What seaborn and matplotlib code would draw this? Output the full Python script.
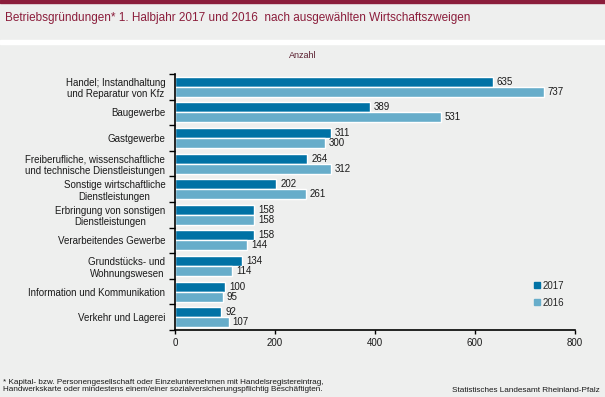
import matplotlib
matplotlib.use("Agg")
import matplotlib.pyplot as plt
from matplotlib.lines import Line2D
from matplotlib.patches import Rectangle
import seaborn as sns
import pandas as pd
import numpy as np

# Data
categories = [
    "Handel; Instandhaltung\nund Reparatur von Kfz",
    "Baugewerbe",
    "Gastgewerbe",
    "Freiberufliche, wissenschaftliche\nund technische Dienstleistungen",
    "Sonstige wirtschaftliche\nDienstleistungen",
    "Erbringung von sonstigen\nDienstleistungen",
    "Verarbeitendes Gewerbe",
    "Grundstücks- und\nWohnungswesen",
    "Information und Kommunikation",
    "Verkehr und Lagerei",
]
values_2017 = [635, 389, 311, 264, 202, 158, 158, 134, 100, 92]
values_2016 = [737, 531, 300, 312, 261, 158, 144, 114, 95, 107]
years = ["2017", "2016"]
x_ticks = [0, 200, 400, 600, 800]

BG = "#EEEFEE"
DARK_RED = "#8B1D3B"
COLORS = {"2017": "#0072A5", "2016": "#67ADCA"}

sns.set_theme(style="white")
plt.rcParams["font.family"] = ["Liberation Sans", "DejaVu Sans"]

df = pd.DataFrame({
    "Wirtschaftszweig": categories * 2,
    "Anzahl": values_2017 + values_2016,
    "Jahr": [years[0]] * len(categories) + [years[1]] * len(categories),
})

fig = plt.figure(figsize=(6.05, 3.97), dpi=100, facecolor=BG)

# top stripe and white separator band
fig.patches.append(Rectangle((0, 1 - 3 / 397), 1, 3 / 397, transform=fig.transFigure,
                             color=DARK_RED, zorder=0))
fig.patches.append(Rectangle((0, 1 - 44 / 397), 1, 4 / 397, transform=fig.transFigure,
                             color="white", zorder=0))

ax = fig.add_axes([175 / 605, 1 - 330 / 397, 400 / 605, 256 / 397])
ax.set_facecolor(BG)

sns.barplot(data=df, y="Wirtschaftszweig", x="Anzahl", hue="Jahr", orient="h",
            palette=COLORS, width=0.78, ax=ax, legend=False, saturation=1)

for cont in ax.containers:
    ax.bar_label(cont, padding=3, fontsize=7, color="#1a1a1a")

ax.set_xlim(0, 800)
ax.set_ylim(9.5, -0.5)
ax.set_xticks(x_ticks)
ax.set_xticklabels([str(t) for t in x_ticks], fontsize=7, color="#1a1a1a")
ax.tick_params(axis="x", length=3, width=1, direction="out", colors="black",
               labelcolor="#1a1a1a", pad=3, bottom=True)

ax.set_yticks(range(len(categories)))
ax.set_yticklabels(categories, fontsize=7, color="#1a1a1a", multialignment="center")
ax.tick_params(axis="y", which="major", length=0, pad=7)
ax.set_yticks(np.arange(-0.5, len(categories), 1), minor=True)
ax.tick_params(axis="y", which="minor", length=4, width=1, direction="out",
               colors="black", left=True)

ax.set_xlabel("")
ax.set_ylabel("")
for side in ["top", "right"]:
    ax.spines[side].set_visible(False)
for side in ["left", "bottom"]:
    ax.spines[side].set_color("black")
    ax.spines[side].set_linewidth(1.2)

handles = [Line2D([0], [0], marker="s", linestyle="", markersize=4,
                  markerfacecolor=COLORS[y], markeredgecolor=COLORS[y]) for y in years]
fig.legend(handles, years, loc="upper left", bbox_to_anchor=(530 / 605, 1 - 277 / 397),
           frameon=False, fontsize=7, handlelength=0.6, handletextpad=0.3,
           labelspacing=0.7, borderaxespad=0)

fig.text(5 / 605, 1 - 18 / 397,
         "Betriebsgründungen* 1. Halbjahr 2017 und 2016  nach ausgewählten Wirtschaftszweigen",
         fontsize=8.5, color=DARK_RED, va="center", ha="left")
fig.text(0.5, 1 - 55 / 397, "Anzahl", fontsize=6.5, color="#5a2030",
         va="center", ha="center")

fig.text(3 / 605, 1 - 386 / 397,
         "* Kapital- bzw. Personengesellschaft oder Einzelunternehmen mit Handelsregistereintrag,\n"
         "Handwerkskarte oder mindestens einem/einer sozialversicherungspflichtig Beschäftigten.",
         fontsize=5.9, color="#1a1a1a", va="center", ha="left", linespacing=0.95)
fig.text(600 / 605, 1 - 391 / 397, "Statistisches Landesamt Rheinland-Pfalz",
         fontsize=5.9, color="#1a1a1a", va="center", ha="right")

fig.savefig("out.png", dpi=100, facecolor=BG)
